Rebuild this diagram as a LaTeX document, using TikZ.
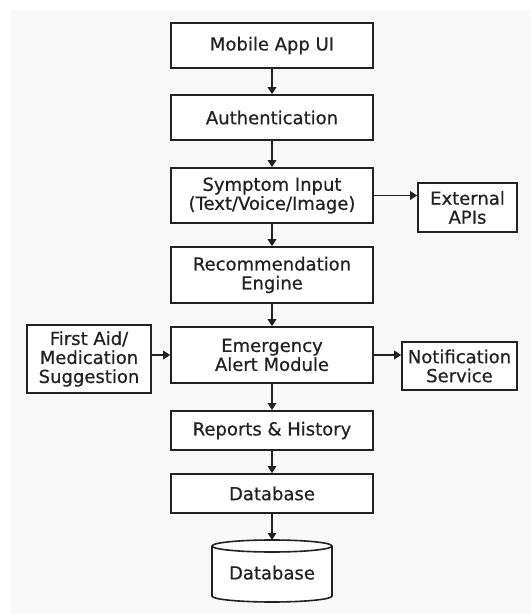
\documentclass[tikz,border=0pt]{standalone}
\usepackage{fontspec}
\setmainfont{DejaVu Sans}
\newfontfamily\lblfont{DejaVu Sans}[FakeBold=0.6]
\usetikzlibrary{arrows.meta}
\definecolor{ink}{HTML}{222222}
\definecolor{bg}{HTML}{F8F8F8}
\begin{document}
\begin{tikzpicture}[x=1pt,y=1pt,
  box/.style={draw=ink,line width=1.6pt,fill=white,text=ink,align=center,inner sep=0pt,
    font=\lblfont\fontsize{18}{19}\selectfont},
  conn/.style={draw=ink,line width=1.6pt,-{Triangle[length=7pt,width=8.5pt]}}]
\useasboundingbox (0,0) rectangle (531,615);
\fill[bg] (10,1) rectangle (531,605);
\node[box,minimum width=202,minimum height=45] (mob) at (272,569.5) {Mobile App UI};
\node[box,minimum width=202,minimum height=45] (auth) at (272,497.5) {Authentication};
\node[box,minimum width=202,minimum height=55] (sym) at (272,419.5) {Symptom Input\\(Text/Voice/Image)};
\node[box,minimum width=202,minimum height=56] (rec) at (272,340) {Recommendation\\Engine};
\node[box,minimum width=202,minimum height=56] (em) at (272,260) {Emergency\\Alert Module};
\node[box,minimum width=202,minimum height=39] (rep) at (272,184.5) {Reports \& History};
\node[box,minimum width=202,minimum height=39] (db) at (272,121.5) {Database};
\node[box,minimum width=99,minimum height=49] (ext) at (467.5,407.5) {External\\APIs};
\node[box,minimum width=124,minimum height=68] (fa) at (89,256) {First Aid/\\Medication\\Suggestion};
\node[box,minimum width=115,minimum height=48] (nt) at (459.5,249) {Notification\\Service};
% cylinder
\filldraw[draw=ink,fill=white,line width=1.6pt] (212,69) -- (212,19) arc[start angle=180,end angle=360,x radius=60,y radius=6] -- (332,69) arc[start angle=0,end angle=180,x radius=60,y radius=6] -- cycle;
\draw[ink,line width=1.6pt] (212,69) arc[start angle=180,end angle=360,x radius=60,y radius=6];
\node[text=ink,font=\lblfont\fontsize{18}{19}\selectfont,inner sep=0pt] (cyl) at (272,42.3) {Database};
\coordinate (cyltop) at (272,75);
% connectors
\draw[conn] (mob) -- (auth);
\draw[conn] (auth) -- (sym);
\draw[conn] (sym) -- (rec);
\draw[conn] (rec) -- (em);
\draw[conn] (em) -- (rep);
\draw[conn] (rep) -- (db);
\draw[conn] (db) -- (cyltop);
\draw[conn] (sym.east) -- (sym.east -| ext.west);
\draw[conn] (em.west -| fa.east) -- (em.west);
\draw[conn] (em.east) -- (em.east -| nt.west);
\end{tikzpicture}
\end{document}
